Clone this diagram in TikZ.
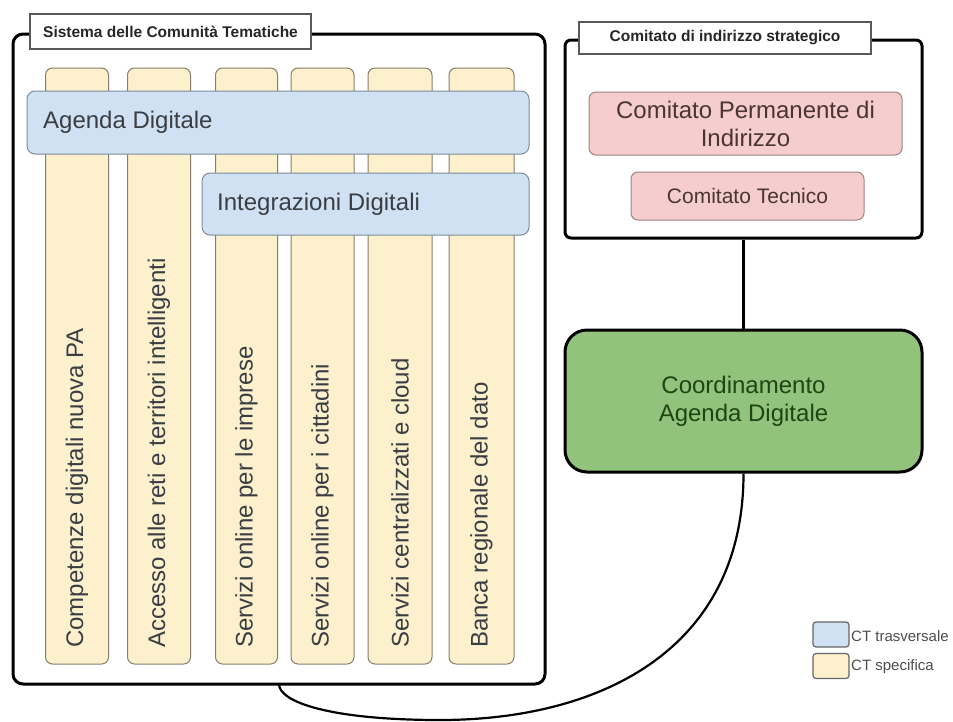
\documentclass[tikz,border=0pt]{standalone}
\usepackage{fontspec}
\setmainfont{Liberation Sans}
\definecolor{yel}{HTML}{FDF0CC}
\definecolor{yelb}{HTML}{857E6C}
\definecolor{blu}{HTML}{CFE1F2}
\definecolor{blub}{HTML}{7F8C99}
\definecolor{pnk}{HTML}{F4CDCC}
\definecolor{pnkb}{HTML}{9C8585}
\definecolor{pnkt}{HTML}{4A3434}
\definecolor{grn}{HTML}{92C37C}
\definecolor{grnt}{HTML}{1F4514}
\definecolor{txtd}{HTML}{3A3E44}
\begin{document}
\begin{tikzpicture}[x=1pt,y=-1pt,
  frame/.style={draw=black,line width=3pt,rounded corners=10pt,fill=white},
  tab/.style={draw=gray!70!black,line width=1.2pt,fill=white,inner sep=0pt,font=\fontsize{15.5}{17}\selectfont\bfseries,text=black!85},
  col/.style={draw=yelb,line width=1pt,fill=yel,rounded corners=7pt,inner sep=0pt,minimum height=596pt},
  coltext/.style={rotate=90,anchor=west,inner sep=0pt,text=txtd,font=\fontsize{24}{27}\selectfont},
  ct/.style={draw=blub,line width=1pt,fill=blu,rounded corners=8pt,inner sep=0pt},
  cttext/.style={anchor=west,inner sep=0pt,text=txtd,font=\fontsize{24}{27}\selectfont},
  pk/.style={draw=pnkb,line width=1pt,fill=pnk,rounded corners=7pt,inner sep=0pt,text=pnkt,align=center},
  swatch/.style={draw=gray!80!black,line width=1.2pt,rounded corners=3pt,minimum width=36pt,minimum height=25pt,inner sep=0pt},
  legtext/.style={anchor=west,inner sep=0pt,text=black!70,font=\fontsize{15}{17}\selectfont},
  link/.style={draw=black,line width=2.2pt}
]
\useasboundingbox (0,0) rectangle (953,721);
\coordinate (lbot) at (279,684);
% main frames
\node[frame,minimum width=532pt,minimum height=650pt,inner sep=0pt] (sys) at (279,359) {};
\node[frame,rounded corners=6pt,minimum width=357pt,minimum height=198pt,inner sep=0pt] (cis) at (743.5,139) {};
\node[frame,rounded corners=22pt,fill=grn,minimum width=357pt,minimum height=142pt,inner sep=0pt,text=grnt,align=center,font=\fontsize{24}{28}\selectfont] (coord) at (743.5,401) {Coordinamento\\Agenda Digitale};
\draw[link] (cis.south) -- (coord.north);
\draw[link] (coord.south) .. controls (743.5,650) and (600,720) .. (440,720) .. controls (330,720) and (279,702) .. (lbot);
% tabs
\node[tab,minimum width=281pt,minimum height=35pt] (tab1) at (170.5,31.5) {Sistema delle Comunità Tematiche};
\node[tab,minimum width=292pt,minimum height=32pt] (tab2) at (725,38) {Comitato di indirizzo strategico};
% columns
\node[col,minimum width=63pt] (c1) at (77,366) {};
\node[col,minimum width=63pt] (c2) at (159,366) {};
\node[col,minimum width=62pt] (c3) at (246.5,366) {};
\node[col,minimum width=63pt] (c4) at (322.5,366) {};
\node[col,minimum width=64pt] (c5) at (400,366) {};
\node[col,minimum width=65pt] (c6) at (481.5,366) {};
\node[coltext] (t1) at (77,648) {Competenze digitali nuova PA};
\node[coltext] (t2) at (159,648) {Accesso alle reti e territori intelligenti};
\node[coltext] (t3) at (246.5,648) {Servizi online per le imprese};
\node[coltext] (t4) at (322.5,648) {Servizi online per i cittadini};
\node[coltext] (t5) at (400,648) {Servizi centralizzati e cloud};
\node[coltext] (t6) at (481.5,648) {Banca regionale del dato};
% transversal CTs
\node[ct,minimum width=502pt,minimum height=63pt] (ad) at (278,122.5) {};
\node[cttext] (adt) at (43,122) {Agenda Digitale};
\node[ct,minimum width=327pt,minimum height=62pt] (id) at (365.5,204) {};
\node[cttext] (idt) at (217,204) {Integrazioni Digitali};
% committees
\node[pk,minimum width=313pt,minimum height=63pt,font=\fontsize{24}{28}\selectfont] (cpi) at (745.5,123.5) {Comitato Permanente di\\Indirizzo};
\node[pk,minimum width=233pt,minimum height=48pt,font=\fontsize{21}{24}\selectfont] (ctec) at (747.5,196) {Comitato Tecnico};
% legend
\node[swatch,fill=blu] (lg1) at (831,634.5) {};
\node[swatch,fill=yel] (lg2) at (831,666) {};
\node[legtext] (lg1t) at (851,636) {CT trasversale};
\node[legtext] (lg2t) at (851,667) {CT specifica};
\end{tikzpicture}
\end{document}
